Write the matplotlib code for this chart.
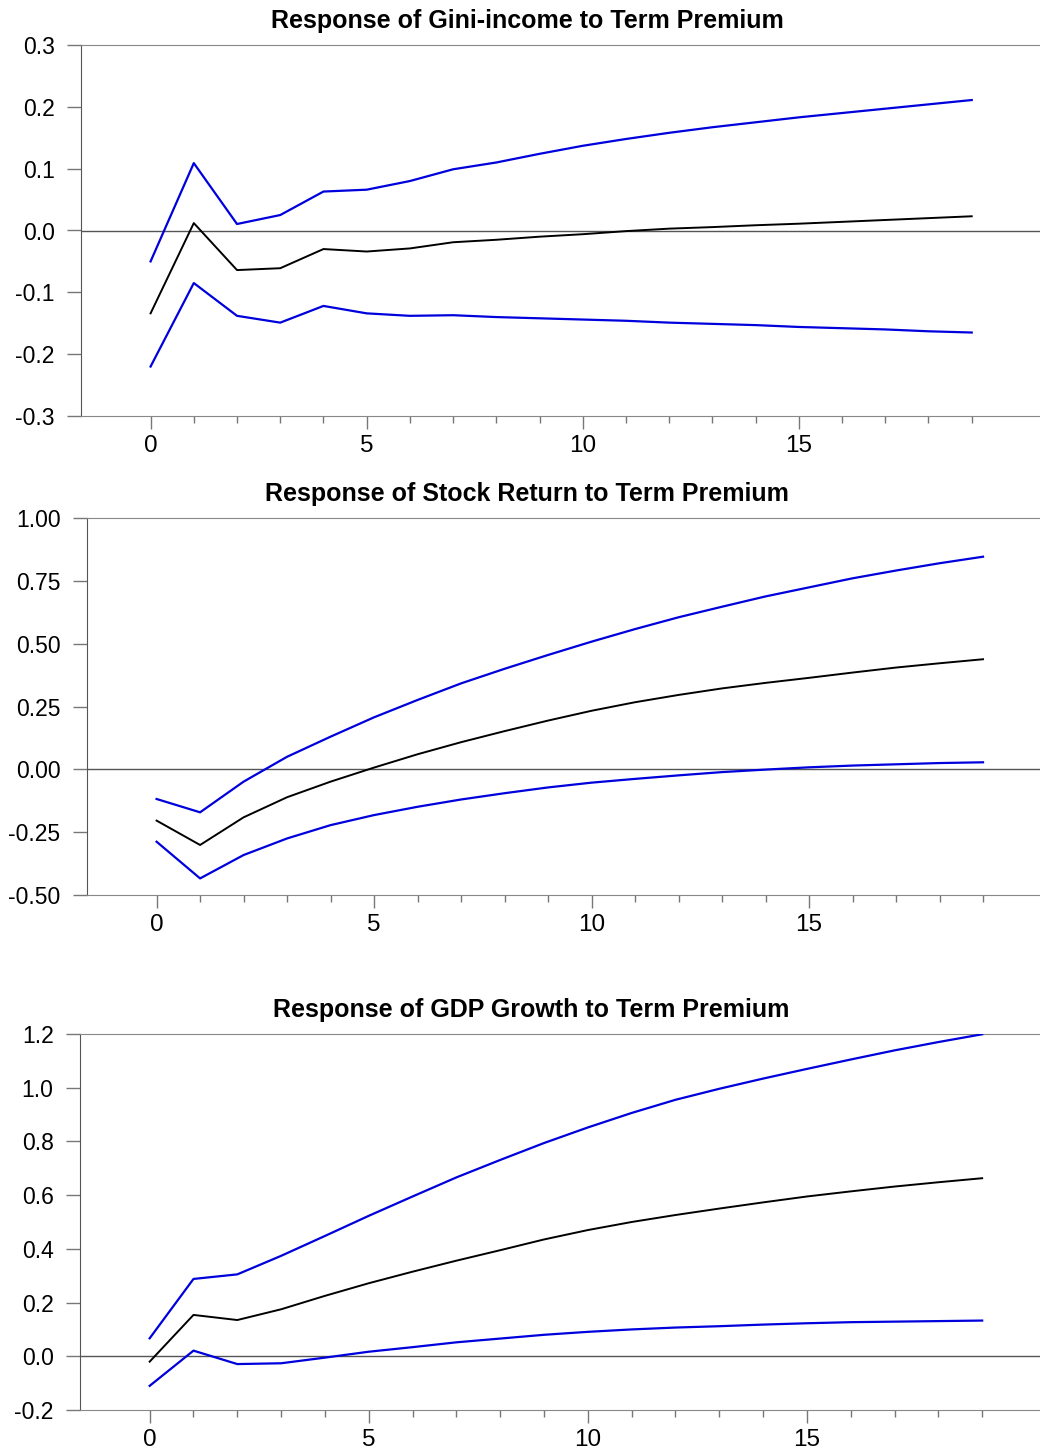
import numpy as np
import matplotlib.pyplot as plt
from matplotlib.ticker import FixedLocator, FormatStrFormatter

plt.rcParams['font.family'] = ['Liberation Sans', 'DejaVu Sans']

steps = np.arange(20)

# Gini-income
gini_mid = [-0.134, 0.012, -0.064, -0.061, -0.030, -0.034, -0.029, -0.019, -0.015, -0.010,
            -0.006, -0.001, 0.003, 0.0055, 0.0085, 0.011, 0.014, 0.017, 0.020, 0.023]
gini_up = [-0.050, 0.109, 0.0105, 0.025, 0.063, 0.066, 0.080, 0.099, 0.110, 0.124,
           0.137, 0.148, 0.158, 0.167, 0.175, 0.183, 0.190, 0.197, 0.204, 0.211]
gini_lo = [-0.220, -0.085, -0.138, -0.149, -0.122, -0.134, -0.138, -0.137, -0.140, -0.142,
           -0.144, -0.146, -0.149, -0.151, -0.153, -0.156, -0.158, -0.160, -0.163, -0.165]

# Stock return
stock_mid = [-0.204, -0.301, -0.191, -0.111, -0.049, 0.007, 0.060, 0.108, 0.152, 0.194,
             0.233, 0.267, 0.296, 0.322, 0.344, 0.364, 0.385, 0.405, 0.422, 0.438]
stock_up = [-0.118, -0.171, -0.049, 0.050, 0.130, 0.207, 0.276, 0.342, 0.400, 0.455,
            0.508, 0.558, 0.605, 0.647, 0.688, 0.724, 0.760, 0.791, 0.820, 0.846]
stock_lo = [-0.288, -0.434, -0.341, -0.275, -0.222, -0.182, -0.149, -0.120, -0.095, -0.072,
            -0.053, -0.038, -0.024, -0.011, -0.001, 0.008, 0.015, 0.020, 0.025, 0.028]

# GDP growth
gdp_mid = [-0.020, 0.154, 0.135, 0.175, 0.225, 0.272, 0.315, 0.356, 0.395, 0.435,
           0.470, 0.500, 0.526, 0.550, 0.573, 0.595, 0.614, 0.632, 0.648, 0.663]
gdp_up = [0.067, 0.288, 0.305, 0.374, 0.448, 0.523, 0.595, 0.666, 0.731, 0.794,
          0.852, 0.906, 0.955, 0.996, 1.034, 1.070, 1.105, 1.139, 1.170, 1.199]
gdp_lo = [-0.110, 0.021, -0.029, -0.026, -0.005, 0.017, 0.034, 0.052, 0.066, 0.080,
          0.091, 0.100, 0.107, 0.112, 0.118, 0.123, 0.127, 0.129, 0.131, 0.133]

titles = ["Response of Gini-income to Term Premium",
          "Response of Stock Return to Term Premium",
          "Response of GDP Growth to Term Premium"]

W, H = 1040, 1452
fig = plt.figure(figsize=(W / 100, H / 100), dpi=100)

# panel boxes in pixels: left, top, bottom, x-limits, title centre
panels = [
    dict(box=(81, 45, 416), xlim=(-1.61, 20.58), ylim=(-0.3, 0.3),
         yticks=np.arange(-0.3, 0.31, 0.1), fmt='%.1f', tx=527, ty=21,
         data=(gini_up, gini_mid, gini_lo)),
    dict(box=(87, 518, 895), xlim=(-1.60, 20.31), ylim=(-0.5, 1.0),
         yticks=np.arange(-0.5, 1.01, 0.25), fmt='%.2f', tx=527, ty=494,
         data=(stock_up, stock_mid, stock_lo)),
    dict(box=(80, 1034, 1410), xlim=(-1.59, 20.32), ylim=(-0.2, 1.2),
         yticks=np.arange(-0.2, 1.21, 0.2), fmt='%.1f', tx=531, ty=1010,
         data=(gdp_up, gdp_mid, gdp_lo)),
]

for p, title in zip(panels, titles):
    left, top, bottom = p['box']
    ax = fig.add_axes([left / W, 1 - bottom / H, (W - left) / W, (bottom - top) / H])
    up, mid, lo = p['data']
    ax.axhline(0, color='#555555', lw=1.0, zorder=1)
    ax.plot(steps, up, color='#0000dd', lw=1.6, zorder=3)
    ax.plot(steps, lo, color='#0000dd', lw=1.6, zorder=3)
    ax.plot(steps, mid, color='black', lw=1.4, zorder=3)
    ax.set_xlim(*p['xlim'])
    ax.set_ylim(*p['ylim'])
    ax.set_yticks(p['yticks'])
    ax.yaxis.set_major_formatter(FormatStrFormatter(p['fmt']))
    ax.xaxis.set_major_locator(FixedLocator([0, 5, 10, 15]))
    ax.xaxis.set_minor_locator(FixedLocator([i for i in range(20) if i % 5 != 0]))
    ax.spines['right'].set_visible(False)
    ax.spines['left'].set_color('#555555')
    ax.spines['top'].set_color('#888888')
    ax.spines['bottom'].set_color('#888888')
    ax.tick_params(axis='y', length=10, width=1, color='#777777', pad=9, labelsize=16.5)
    ax.tick_params(axis='x', which='major', length=9.5, width=1, color='#777777', pad=4, labelsize=17.5)
    ax.tick_params(axis='x', which='minor', length=5, width=1, color='#777777')
    fig.text(p['tx'] / W, 1 - p['ty'] / H, title, ha='center', va='center',
             fontsize=18, fontweight='bold')

fig.savefig('out.png', dpi=100)
